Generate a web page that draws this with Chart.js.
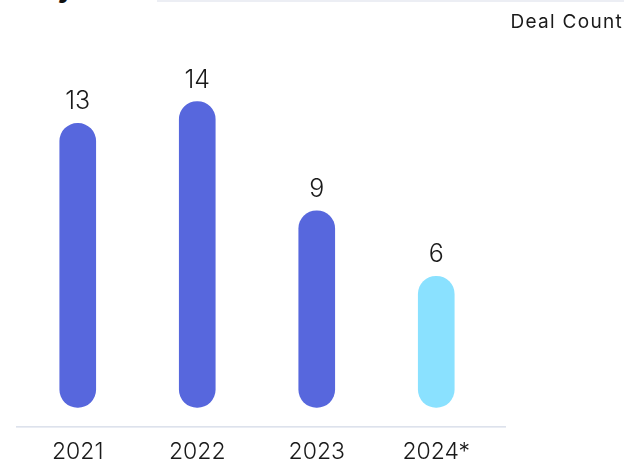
<!DOCTYPE html>
<html>
<head>
<meta charset="utf-8">
<script src="https://cdn.jsdelivr.net/npm/chart.js@4.4.1/dist/chart.umd.min.js"></script>
<style>
  html, body { margin: 0; padding: 0; background: #fff; overflow: hidden; }
  #wrap { position: relative; width: 624px; height: 459px; overflow: hidden; }
  #title { position: absolute; left: 22px; bottom: 455px; font: 700 28px Inter, sans-serif; color: #111; white-space: nowrap; }
  #rule { position: absolute; left: 157px; right: 0; top: 0; height: 2px; background: #eceef4; }
  #chart-box { position: absolute; left: 0; top: 0; width: 624px; height: 480px; }
</style>
</head>
<body>
<div id="wrap">
  <div id="title">Key Stats</div>
  <div id="rule"></div>
  <div id="chart-box"><canvas id="js--deal-chart" width="624" height="480"></canvas></div>
</div>
<script>
const years = ["2021", "2022", "2023", "2024*"];
const dealCounts = [13, 14, 9, 6];
const barColors = ["#5767DD", "#5767DD", "#5767DD", "#8AE1FF"];

const fontFamily = "Inter, 'Open Sans', sans-serif";

// numbers above each bar
const valueLabels = {
    id: "valueLabels",
    afterDatasetsDraw(chart) {
        const ctx = chart.ctx;
        const meta = chart.getDatasetMeta(0);
        ctx.save();
        ctx.font = "300 25px " + fontFamily;
        ctx.fillStyle = "#1a1a1a";
        ctx.textAlign = "center";
        ctx.textBaseline = "bottom";
        meta.data.forEach((bar, i) => {
            ctx.fillText(dealCounts[i], bar.x, bar.y - 9);
        });
        ctx.restore();
    }
};

// baseline under the bars, a little wider than the plot area
const baseLine = {
    id: "baseLine",
    beforeDatasetsDraw(chart) {
        const { ctx, chartArea } = chart;
        ctx.save();
        ctx.strokeStyle = "#C8CFE0";
        ctx.lineWidth = 1;
        ctx.beginPath();
        ctx.moveTo(chartArea.left - 2, chartArea.bottom + 0.5);
        ctx.lineTo(chartArea.right + 10, chartArea.bottom + 0.5);
        ctx.stroke();
        ctx.restore();
    }
};

// series caption in the top right corner
const seriesCaption = {
    id: "seriesCaption",
    afterDraw(chart) {
        const ctx = chart.ctx;
        ctx.save();
        ctx.font = "400 19px " + fontFamily;
        ctx.letterSpacing = "1.3px";
        ctx.fillStyle = "#1a1a1a";
        ctx.textAlign = "right";
        ctx.textBaseline = "middle";
        ctx.fillText("Deal Count", chart.width - 1, 22);
        ctx.restore();
    }
};

const config = {
    type: "bar",
    data: {
        labels: years,
        datasets: [{
            label: "Deal Count",
            data: dealCounts,
            backgroundColor: barColors,
            barThickness: 36,
            borderRadius: 18,
            borderSkipped: false
        }]
    },
    options: {
        responsive: false,
        animation: false,
        layout: {
            padding: { top: 36, left: 18, right: 128, bottom: 10 }
        },
        plugins: {
            legend: { display: false },
            tooltip: { enabled: false }
        },
        scales: {
            x: {
                grid: { display: false },
                border: { display: false },
                ticks: {
                    color: "#1a1a1a",
                    padding: 4,
                    font: { family: fontFamily, size: 23, weight: 300 }
                }
            },
            y: {
                display: false,
                min: -0.87,
                max: 17
            }
        }
    },
    plugins: [baseLine, valueLabels, seriesCaption]
};

const dealChart = new Chart(document.getElementById("js--deal-chart"), config);
</script>
</body>
</html>
